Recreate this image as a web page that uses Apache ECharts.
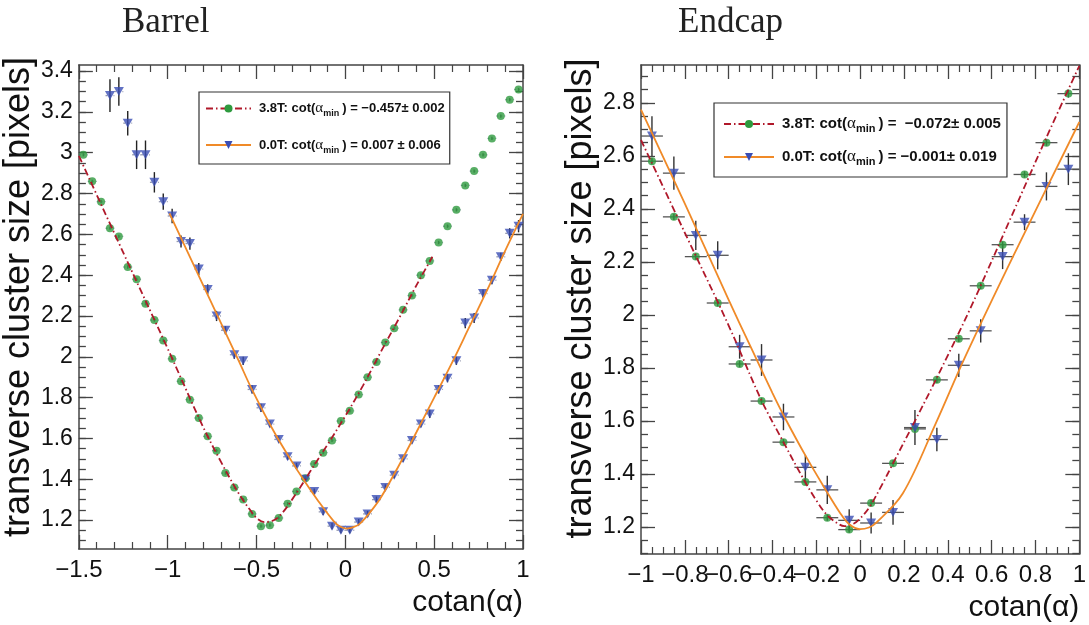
<!DOCTYPE html>
<html><head><meta charset="utf-8">
<script src="https://cdn.jsdelivr.net/npm/echarts@6/dist/echarts.min.js"></script>
<style>html,body{margin:0;padding:0;background:#fff}#c{width:1089px;height:625px}</style>
</head><body><div id="c"></div>
<script>
// ---------------- Barrel data ----------------
const barrelX = [-1.475,-1.425,-1.375,-1.325,-1.275,-1.225,-1.175,-1.125,-1.075,-1.025,-0.975,-0.925,-0.875,-0.825,-0.775,-0.725,-0.675,-0.625,-0.575,-0.525,-0.475,-0.425,-0.375,-0.325,-0.275,-0.225,-0.175,-0.125,-0.075,-0.025,0.025,0.075,0.125,0.175,0.225,0.275,0.325,0.375,0.425,0.475,0.525,0.575,0.625,0.675,0.725,0.775,0.825,0.875,0.925,0.975];
const barrel38 = [2.99,2.86,2.76,2.63,2.59,2.44,2.38,2.26,2.18,2.08,1.99,1.88,1.79,1.70,1.61,1.54,1.43,1.36,1.30,1.23,1.17,1.175,1.21,1.28,1.34,1.405,1.475,1.53,1.59,1.685,1.735,1.815,1.90,1.975,2.07,2.14,2.23,2.30,2.40,2.47,2.56,2.64,2.72,2.84,2.91,2.99,3.07,3.18,3.26,3.31];
const barrel38Err = [0.008,0.008,0.008,0.008,0.008,0.008,0.008,0.008,0.008,0.008,0.008,0.008,0.008,0.008,0.008,0.008,0.008,0.008,0.008,0.008,0.008,0.008,0.008,0.008,0.008,0.008,0.008,0.008,0.008,0.008,0.008,0.008,0.008,0.008,0.008,0.008,0.008,0.008,0.008,0.008,0.008,0.008,0.008,0.008,0.008,0.008,0.008,0.008,0.008,0.008];
const barrel00 = [null,null,null,3.28,3.30,3.145,2.99,2.99,2.855,2.76,2.69,2.565,2.555,2.43,2.33,2.20,2.13,2.01,1.98,1.84,1.75,1.67,1.595,1.51,1.465,1.40,1.34,1.24,1.17,1.15,1.15,1.19,1.23,1.30,1.36,1.42,1.50,1.59,1.67,1.72,1.84,1.895,1.98,2.165,2.19,2.31,2.375,2.49,2.605,2.64];
const barrel00Err = [null,null,null,0.08,0.07,0.06,0.07,0.07,0.05,0.04,0.035,0.03,0.03,0.03,0.025,0.025,0.02,0.02,0.02,0.02,0.02,0.015,0.015,0.015,0.015,0.015,0.015,0.015,0.015,0.015,0.015,0.015,0.015,0.015,0.015,0.015,0.015,0.015,0.015,0.02,0.02,0.02,0.02,0.025,0.025,0.02,0.02,0.02,0.025,0.03];
const barrelBinHalf = 0.025;
const barrelFit38X = [-1.5,-1.25,-1.0,-0.8,-0.7,-0.6,-0.533,-0.5,-0.457,-0.4,-0.35,-0.3,-0.252,-0.2,-0.1,0,0.1,0.2,0.3,0.4,0.49];
const barrelFit38Y = [2.985,2.51,2.04,1.655,1.485,1.33,1.245,1.21,1.19,1.20,1.24,1.30,1.363,1.435,1.57,1.71,1.86,2.025,2.185,2.35,2.49];
const barrelFit00X = [-0.99,-0.8,-0.6,-0.533,-0.4,-0.3,-0.234,-0.15,-0.066,-0.03,0.007,0.045,0.084,0.15,0.2,0.3,0.4,0.5,0.6,0.7,0.8,0.9,1.0];
const barrelFit00Y = [2.703,2.35,1.98,1.853,1.63,1.485,1.396,1.29,1.195,1.168,1.158,1.165,1.184,1.25,1.31,1.465,1.63,1.80,1.97,2.15,2.33,2.52,2.70];
const barrelXTicks = [-1.5,-1,-0.5,0,0.5,1];
const barrelYTicks = [1.2,1.4,1.6,1.8,2.0,2.2,2.4,2.6,2.8,3.0,3.2,3.4];

// ---------------- Endcap data ----------------
const endcapX = [-0.95,-0.85,-0.75,-0.65,-0.55,-0.45,-0.35,-0.25,-0.15,-0.05,0.05,0.15,0.25,0.35,0.45,0.55,0.65,0.75,0.85,0.95];
const endcap38 = [2.58,2.37,2.22,2.045,1.815,1.675,1.52,1.37,1.235,1.19,1.29,1.44,1.57,1.755,1.91,2.11,2.265,2.53,2.65,2.835];
const endcap38Err = [0.012,0.012,0.012,0.012,0.012,0.012,0.012,0.012,0.012,0.012,0.012,0.012,0.012,0.012,0.012,0.012,0.012,0.012,0.012,0.015];
const endcap00 = [2.675,2.535,2.30,2.225,1.88,1.83,1.615,1.425,1.34,1.225,1.215,1.255,1.575,1.53,1.81,1.94,2.22,2.35,2.485,2.55];
const endcap00Err = [0.075,0.063,0.055,0.053,0.045,0.06,0.05,0.047,0.053,0.042,0.04,0.047,0.066,0.044,0.044,0.044,0.047,0.03,0.053,0.06];
const endcapBinHalf = 0.05;
const endcapFit38X = [-1,-0.8,-0.6,-0.451,-0.35,-0.256,-0.2,-0.151,-0.1,-0.072,-0.03,0,0.044,0.1,0.15,0.25,0.345,0.5,0.7,0.85,1.0];
const endcapFit38Y = [2.66,2.31,1.96,1.679,1.52,1.377,1.30,1.245,1.212,1.203,1.212,1.232,1.277,1.36,1.44,1.60,1.755,2.02,2.39,2.67,2.94];
const endcapFit00X = [-1,-0.8,-0.6,-0.5,-0.4,-0.346,-0.25,-0.166,-0.091,-0.05,-0.001,0.04,0.074,0.195,0.345,0.479,0.7,0.99,1.0];
const endcapFit00Y = [2.775,2.42,2.057,1.88,1.705,1.616,1.47,1.352,1.252,1.21,1.192,1.198,1.216,1.327,1.591,1.842,2.225,2.711,2.728];
const endcapXTicks = [-1,-0.8,-0.6,-0.4,-0.2,0,0.2,0.4,0.6,0.8,1];
const endcapYTicks = [1.2,1.4,1.6,1.8,2.0,2.2,2.4,2.6,2.8];

const legendText = {
  'Barrel 3.8T': ['3.8T: cot(', ') = \u22120.457\u00b1 0.002'],
  'Barrel 0.0T': ['0.0T: cot(', ') = 0.007 \u00b1 0.006'],
  'Endcap 3.8T': ['3.8T: cot(', ') =  \u22120.072\u00b1 0.005'],
  'Endcap 0.0T': ['0.0T: cot(', ') = \u22120.001\u00b1 0.019']
};

// ---------------- styling ----------------
const GREEN = '#2e9a3e', BLUE = '#3a4db4', RED = '#b0182a', ORANGE = '#f08a28';
const TRI = 'path://M0,0 L10,0 L5,9 Z';
const AX = '#444';
const SANS = 'Liberation Sans, Arial, sans-serif';
const fmt = v => String(Math.round(v * 10) / 10).replace('-', '\u2212');

function zip(xs, ys) { const o = []; for (let i = 0; i < xs.length; i++) if (ys[i] != null) o.push([xs[i], ys[i]]); return o; }
function errData(xs, ys, es, h) { const o = []; for (let i = 0; i < xs.length; i++) if (ys[i] != null) o.push([xs[i], ys[i], es[i], h]); return o; }
function minorOf(ticks, min, max, step) {
  const o = []; const t0 = ticks[0];
  for (let k = -20; k < 200; k++) { const v = +(t0 + k * step).toFixed(4); if (v >= min && v <= max) o.push(v); }
  return o;
}

function xAxesFor(grid, min, max, interval, minorSplit, pos, withLabel) {
  return {
    type: 'value', gridIndex: grid, min, max, interval, position: pos,
    axisLine: { show: true, onZero: false, lineStyle: { color: AX, width: 1.5 } },
    axisTick: { show: true, inside: true, length: 14, lineStyle: { color: AX, width: 1.3 } },
    minorTick: { show: true, splitNumber: minorSplit, length: 7, lineStyle: { color: AX, width: 1.2 } },
    splitLine: { show: false }, minorSplitLine: { show: false },
    axisLabel: { show: withLabel, fontSize: 24, color: '#111', fontFamily: SANS, margin: 9, formatter: fmt, showMinLabel: true, showMaxLabel: true },
    name: withLabel ? 'cotan(\u03b1)' : '', nameLocation: 'end', nameGap: 0,
    nameTextStyle: { fontSize: 30, color: '#111', fontFamily: SANS, align: 'right', verticalAlign: 'top', padding: [39, 0, 0, 0] }
  };
}
function yAxesFor(grid, min, max, ticks, pos, major, namePad) {
  const minor = minorOf(ticks, min, max, 0.05);
  return {
    type: 'value', gridIndex: grid, min, max, position: pos,
    axisLine: { show: major, onZero: false, lineStyle: { color: AX, width: 1.5 } },
    axisTick: { show: true, inside: true, length: major ? 14 : 7, customValues: major ? ticks : minor, lineStyle: { color: AX, width: 1.3 } },
    splitLine: { show: false },
    axisLabel: { show: major && pos === 'left', customValues: ticks, fontSize: 23, color: '#111', fontFamily: SANS, margin: 6, formatter: fmt },
    name: (major && pos === 'left') ? 'transverse cluster size [pixels]' : '',
    nameLocation: 'middle', nameGap: 31, nameRotate: 90,
    nameTextStyle: { fontSize: 36, color: '#111', fontFamily: SANS, padding: [0, 0, 0, namePad] }
  };
}

function errSeries(name, xi, yi, data, vColor, hColor, hDash) {
  return {
    type: 'custom', xAxisIndex: xi, yAxisIndex: yi, z: 2, silent: true,
    data, encode: { x: 0, y: 1 },
    renderItem: function (params, api) {
      const x = api.value(0), y = api.value(1), ye = api.value(2), xe = api.value(3);
      const t = api.coord([x, y + ye]), b = api.coord([x, y - ye]);
      const l = api.coord([x - xe, y]), r = api.coord([x + xe, y]);
      return { type: 'group', children: [
        { type: 'line', shape: { x1: l[0], y1: l[1], x2: r[0], y2: r[1] }, style: { stroke: hColor, lineWidth: 1.3, lineDash: hDash } },
        { type: 'line', shape: { x1: t[0], y1: t[1], x2: b[0], y2: b[1] }, style: { stroke: vColor, lineWidth: 1.4 } }
      ] };
    }
  };
}
function pointSeries(name, xi, yi, data, sym, size, color) {
  return { type: 'scatter', xAxisIndex: xi, yAxisIndex: yi, z: 3, data, symbol: sym, symbolSize: size, itemStyle: { color }, silent: true };
}
function fitSeries(name, xi, yi, data, color, dash, sym, size, symColor) {
  return {
    name, type: 'line', xAxisIndex: xi, yAxisIndex: yi, z: 4, data, smooth: 0.35,
    showSymbol: false, symbol: sym, symbolSize: size, itemStyle: { color: symColor },
    lineStyle: { color, width: 1.8, type: dash }, silent: true
  };
}

function legendFor(names, left, top, fsz, iw, gap, pad) {
  return {
    data: names, left, top, orient: 'vertical', itemWidth: iw, itemHeight: 10, itemGap: gap,
    padding: pad, borderColor: '#333', borderWidth: 1.2, backgroundColor: '#fff',
    selectedMode: false,
    formatter: n => '{t|' + legendText[n][0] + '}{g|\u03b1}{s|min}{t|' + legendText[n][1] + '}',
    textStyle: { rich: {
      t: { fontFamily: SANS, fontWeight: 'bold', fontSize: fsz, color: '#111', lineHeight: 20, padding: [0, 0, 0, 3] },
      g: { fontFamily: 'Liberation Serif, serif', fontSize: fsz + 2, color: '#111', lineHeight: 20 },
      s: { fontFamily: SANS, fontWeight: 'bold', fontSize: Math.round(fsz * 0.7), color: '#111', lineHeight: 20, verticalAlign: 'bottom', padding: [8, 0, 0, 0] }
    } }
  };
}

const chart = echarts.init(document.getElementById('c'), null, { renderer: 'canvas' });
const bMin = 1.058, bMax = 3.43, eMin = 1.098, eMax = 2.943;
chart.setOption({
  animation: false,
  backgroundColor: '#fff',
  grid: [
    { left: 77, top: 65, width: 446, height: 484 },
    { left: 641, top: 65, width: 444.5, height: 489 }
  ],
  xAxis: [
    xAxesFor(0, -1.5, 1, 0.5, 5, 'bottom', true),
    xAxesFor(0, -1.5, 1, 0.5, 5, 'top', false),
    xAxesFor(1, -1, 1, 0.2, 4, 'bottom', true),
    xAxesFor(1, -1, 1, 0.2, 4, 'top', false)
  ],
  yAxis: [
    yAxesFor(0, bMin, bMax, barrelYTicks, 'left', true, 20),
    yAxesFor(0, bMin, bMax, barrelYTicks, 'left', false, 0),
    yAxesFor(0, bMin, bMax, barrelYTicks, 'right', true, 0),
    yAxesFor(0, bMin, bMax, barrelYTicks, 'right', false, 0),
    yAxesFor(1, eMin, eMax, endcapYTicks, 'left', true, 22),
    yAxesFor(1, eMin, eMax, endcapYTicks, 'left', false, 0),
    yAxesFor(1, eMin, eMax, endcapYTicks, 'right', true, 0),
    yAxesFor(1, eMin, eMax, endcapYTicks, 'right', false, 0)
  ],
  legend: [
    legendFor(['Barrel 3.8T', 'Barrel 0.0T'], 199, 92, 13, 45, 19, [9, 5, 9, 6]),
    legendFor(['Endcap 3.8T', 'Endcap 0.0T'], 714, 103, 15, 50, 14, [12, 6, 10, 9])
  ],
  graphic: [
    { type: 'text', left: 122, top: 5, style: { text: 'Barrel', fontFamily: 'Liberation Serif, serif', fontSize: 35, fill: '#222' } },
    { type: 'text', left: 678, top: 5, style: { text: 'Endcap', fontFamily: 'Liberation Serif, serif', fontSize: 35, fill: '#222' } }
  ],
  series: [
    errSeries('b38e', 0, 0, errData(barrelX, barrel38, barrel38Err, barrelBinHalf), '#555', 'rgba(60,70,110,0.55)', [2, 2]),
    errSeries('b00e', 0, 0, errData(barrelX, barrel00, barrel00Err, barrelBinHalf), '#222', 'rgba(60,70,110,0.55)', [2, 2]),
    pointSeries('b38p', 0, 0, zip(barrelX, barrel38), 'circle', 8, GREEN),
    pointSeries('b00p', 0, 0, zip(barrelX, barrel00), TRI, [10, 9], BLUE),
    fitSeries('Barrel 3.8T', 0, 0, zip(barrelFit38X, barrelFit38Y), RED, [7, 3, 1.5, 3], 'circle', 8, GREEN),
    fitSeries('Barrel 0.0T', 0, 0, zip(barrelFit00X, barrelFit00Y), ORANGE, 'solid', TRI, [10, 9], BLUE),

    errSeries('e38e', 2, 4, errData(endcapX, endcap38, endcap38Err, endcapBinHalf), '#333', '#555', null),
    errSeries('e00e', 2, 4, errData(endcapX, endcap00, endcap00Err, endcapBinHalf), '#333', '#555', null),
    pointSeries('e38p', 2, 4, zip(endcapX, endcap38), 'circle', 8, GREEN),
    pointSeries('e00p', 2, 4, zip(endcapX, endcap00), TRI, [10, 9], BLUE),
    fitSeries('Endcap 3.8T', 2, 4, zip(endcapFit38X, endcapFit38Y), RED, [7, 3, 1.5, 3], 'circle', 8, GREEN),
    fitSeries('Endcap 0.0T', 2, 4, zip(endcapFit00X, endcapFit00Y), ORANGE, 'solid', TRI, [10, 9], BLUE)
  ]
});
</script>
</body></html>
